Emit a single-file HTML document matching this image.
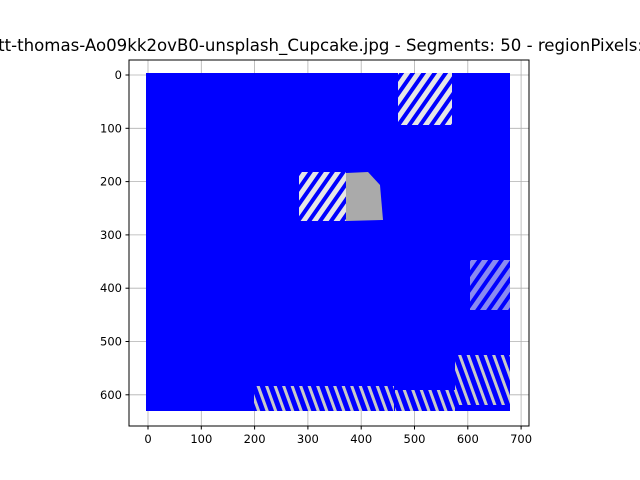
<!DOCTYPE html>
<html><head><meta charset="utf-8"><style>
body{margin:0;background:#fff;}
svg{display:block;font-family:"DejaVu Sans","Liberation Sans",sans-serif;}
</style></head><body>
<svg width="640" height="480">
<defs>
<pattern id="stripes" width="9" height="9" patternUnits="userSpaceOnUse" patternTransform="rotate(35)">
<rect width="9" height="9" fill="#e6e6e6"/><rect width="4" height="9" fill="#0000ff"/></pattern>
<pattern id="stripes2" width="8" height="8" patternUnits="userSpaceOnUse" patternTransform="rotate(-20)">
<rect width="8" height="8" fill="#c8c8c8"/><rect width="5" height="8" fill="#0000ff"/></pattern>
</defs>
<g font-size="16.6">
<text x="320" y="51" text-anchor="end">scott-thomas-Ao09kk2ovB0-unsplash_Cup</text>
<text x="320" y="51" text-anchor="start">cake.jpg - Segments: 50 - regionPixels: 400</text>
</g>
<g id="grid"></g>
<g id="img">
<rect x="146" y="73" width="364" height="338" fill="#0000ff"/>
<rect x="398" y="73" width="54" height="52" fill="url(#stripes)"/>
<rect x="299" y="172" width="47" height="49" fill="url(#stripes)"/>
<path d="M346 173 L368 172 L380 185 L383 220 L346 221 Z" fill="#aaaaaa"/>
<rect x="254" y="386" width="140" height="25" fill="url(#stripes2)"/>
<rect x="395" y="390" width="60" height="21" fill="url(#stripes2)"/>
<rect x="455" y="355" width="55" height="50" fill="url(#stripes2)"/>
<rect x="470" y="260" width="40" height="50" fill="url(#stripes)" opacity="0.6"/>
</g>
<rect x="129" y="60" width="400" height="366" fill="none" stroke="#000" stroke-width="1"/>
<g id="ticks" font-size="11.5"></g>
<script>
const xTicks=[0,100,200,300,400,500,600,700];
const yTicks=[0,100,200,300,400,500,600];
const sx=v=>148+v*0.533, sy=v=>75+v*0.533;
const ns='http://www.w3.org/2000/svg';
const g=document.getElementById('ticks'), gr=document.getElementById('grid');
function mk(tag,at,par){const e=document.createElementNS(ns,tag);for(const k in at)e.setAttribute(k,at[k]);par.appendChild(e);return e;}
xTicks.forEach(v=>{const x=sx(v);
 const l=mk('line',{x1:x,x2:x,y1:60,y2:426,stroke:'#b0b0b0','stroke-width':0.8},gr);
 
 
 mk('line',{x1:x,x2:x,y1:426,y2:429.5,stroke:'#000'},g);
 const t=mk('text',{x:x,y:443,'text-anchor':'middle'},g);t.textContent=v;
 
 });
yTicks.forEach(v=>{const y=sy(v);
 const l=mk('line',{x1:129,x2:529,y1:y,y2:y,stroke:'#b0b0b0','stroke-width':0.8},gr);
 
 
 mk('line',{x1:125.5,x2:129,y1:y,y2:y,stroke:'#000'},g);
 const t=mk('text',{x:122,y:y+4,'text-anchor':'end'},g);t.textContent=v;
 
 });
</script>
</svg>
</body></html>
